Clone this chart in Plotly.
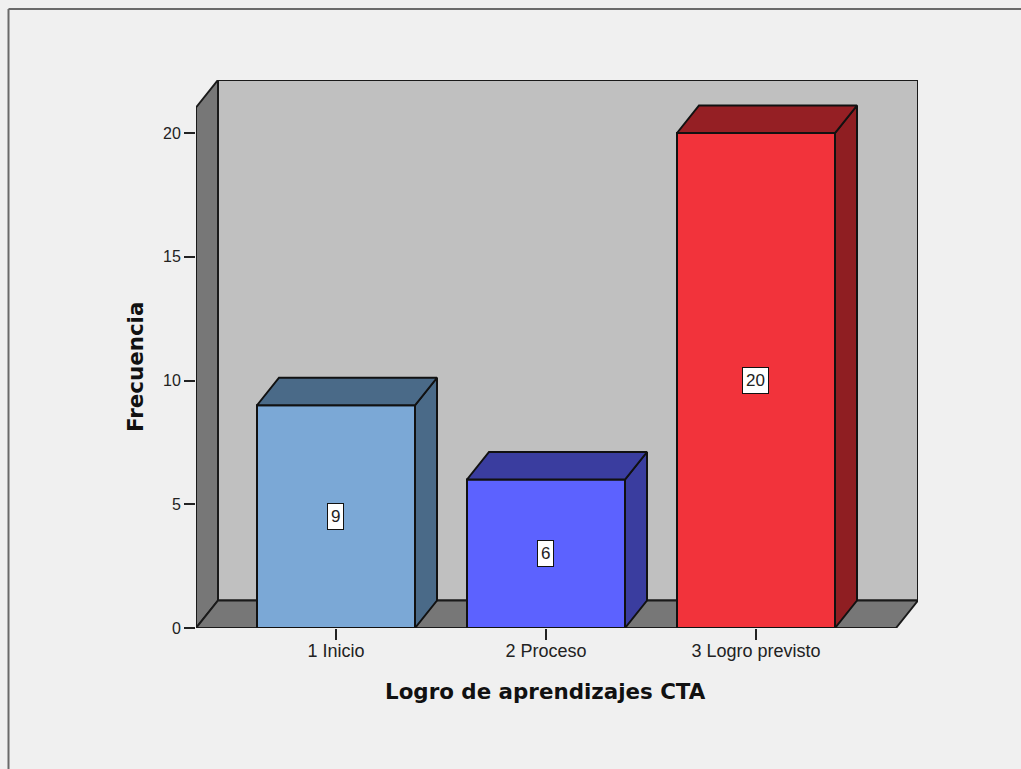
import plotly.graph_objects as go

categories = ['1 Inicio', '2 Proceso', '3 Logro previsto']
frequencies = [9, 6, 20]
y_ticks = [0, 5, 10, 15, 20]

front_colors = ['#7ba8d6', '#5c62ff', '#f2333b']
side_colors = ['#4a6a88', '#3a3d9f', '#8f1e22']
top_colors = ['#4a6a88', '#3a3d9f', '#951f24']

# pixel layout of the chart
WIDTH, HEIGHT = 1021, 769
LEFT, RIGHT, TOP, BOTTOM = 196, 918, 80, 628
X_STEP = 210  # px between bars
Y_UNIT = 24.75  # px per count
FIRST_BAR = 336  # px centre of first bar

BAR_W = 158 / X_STEP
DX = 22 / X_STEP
DY = 27.5 / Y_UNIT
X_MIN = (LEFT - FIRST_BAR) / X_STEP
X_MAX = (RIGHT - FIRST_BAR) / X_STEP
Y_MAX = (BOTTOM - TOP) / Y_UNIT

positions = list(range(len(categories)))


def poly(xs, ys):
    path = 'M ' + ' L '.join(f'{x},{y}' for x, y in zip(xs, ys)) + ' Z'
    return path


def paper_x(px):
    return (px - LEFT) / (RIGHT - LEFT)


def paper_y(px):
    return (BOTTOM - px) / (BOTTOM - TOP)


fig = go.Figure()

# Side and top faces of the bars
for pos, val, side, top in zip(positions, frequencies, side_colors, top_colors):
    x0, x1 = pos - BAR_W / 2, pos + BAR_W / 2
    fig.add_trace(go.Scatter(x=[x1, x1 + DX, x1 + DX, x1, x1], y=[0, DY, val + DY, val, 0],
                             mode='lines', fill='toself', fillcolor=side,
                             line={'color': '#111111', 'width': 2}, hoverinfo='skip'))
    fig.add_trace(go.Scatter(x=[x0, x0 + DX, x1 + DX, x1, x0], y=[val, val + DY, val + DY, val, val],
                             mode='lines', fill='toself', fillcolor=top,
                             line={'color': '#111111', 'width': 2}, hoverinfo='skip'))

# Front faces
fig.add_trace(go.Bar(x=positions, y=frequencies, width=BAR_W,
                     marker={'color': front_colors, 'line': {'color': '#111111', 'width': 2}}))

# Value labels
for pos, val in zip(positions, frequencies):
    fig.add_annotation(x=pos, y=val / 2, text=str(val), showarrow=False, xshift=-1,
                       bgcolor='white', bordercolor='#111111', borderwidth=1, borderpad=3,
                       font={'family': 'Liberation Sans', 'size': 17, 'color': '#222222'})

# Axis titles
title_font = {'family': 'DejaVu Sans', 'size': 21.4, 'color': '#111111', 'weight': 'bold'}
fig.add_annotation(xref='paper', yref='paper', x=paper_x(545), y=paper_y(691), text='Logro de aprendizajes CTA',
                   showarrow=False, font=title_font, xanchor='center', yanchor='middle')
fig.add_annotation(xref='paper', yref='paper', x=paper_x(136), y=paper_y(367), text='Frecuencia',
                   showarrow=False, font=title_font, textangle=-90, xanchor='center', yanchor='middle')

edge = {'color': '#1a1a1a', 'width': 2}
frame = {'color': '#6a6a6a', 'width': 2}
shapes = [
    # back wall
    dict(type='path', path=poly([DX + X_MIN, X_MAX, X_MAX, DX + X_MIN], [DY, DY, Y_MAX, Y_MAX]),
         fillcolor='#c0c0c0', line=edge, layer='below'),
    # left wall
    dict(type='path', path=poly([X_MIN, X_MIN + DX, X_MIN + DX, X_MIN], [0, DY, Y_MAX, Y_MAX - DY]),
         fillcolor='#777777', line=edge, layer='below'),
    # floor
    dict(type='path', path=poly([X_MIN, X_MIN + DX, X_MAX, X_MAX - DX], [0, DY, DY, 0]),
         fillcolor='#777777', line=edge, layer='below'),
    # window frame
    dict(type='line', xref='paper', yref='paper', x0=paper_x(8.5), x1=paper_x(WIDTH),
         y0=paper_y(9), y1=paper_y(9), line=frame),
    dict(type='line', xref='paper', yref='paper', x0=paper_x(8.5), x1=paper_x(8.5),
         y0=paper_y(9), y1=paper_y(HEIGHT), line=frame),
]

fig.update_layout(
    width=WIDTH, height=HEIGHT, showlegend=False, shapes=shapes,
    paper_bgcolor='#f0f0f0', plot_bgcolor='#f0f0f0',
    margin={'l': LEFT, 'r': WIDTH - RIGHT, 't': TOP, 'b': HEIGHT - BOTTOM, 'pad': 0},
    font={'family': 'Liberation Sans', 'color': '#222222'})
fig.update_xaxes(range=[X_MIN, X_MAX], tickvals=positions, ticktext=categories, showgrid=False, zeroline=False,
                 showline=False, ticks='outside', ticklen=11, tickwidth=1.5, tickcolor='#222222',
                 tickfont={'size': 18}, ticklabelstandoff=-5)
fig.update_yaxes(range=[0, Y_MAX], tickvals=y_ticks, showgrid=False, zeroline=False,
                 showline=False, ticks='outside', ticklen=11, tickwidth=1.5, tickcolor='#222222',
                 tickfont={'size': 16})

# the page's default body margin would push the chart 8px off
fig.write_html("out.html", config={'displayModeBar': False}, post_script="document.body.style.margin = '0';")
